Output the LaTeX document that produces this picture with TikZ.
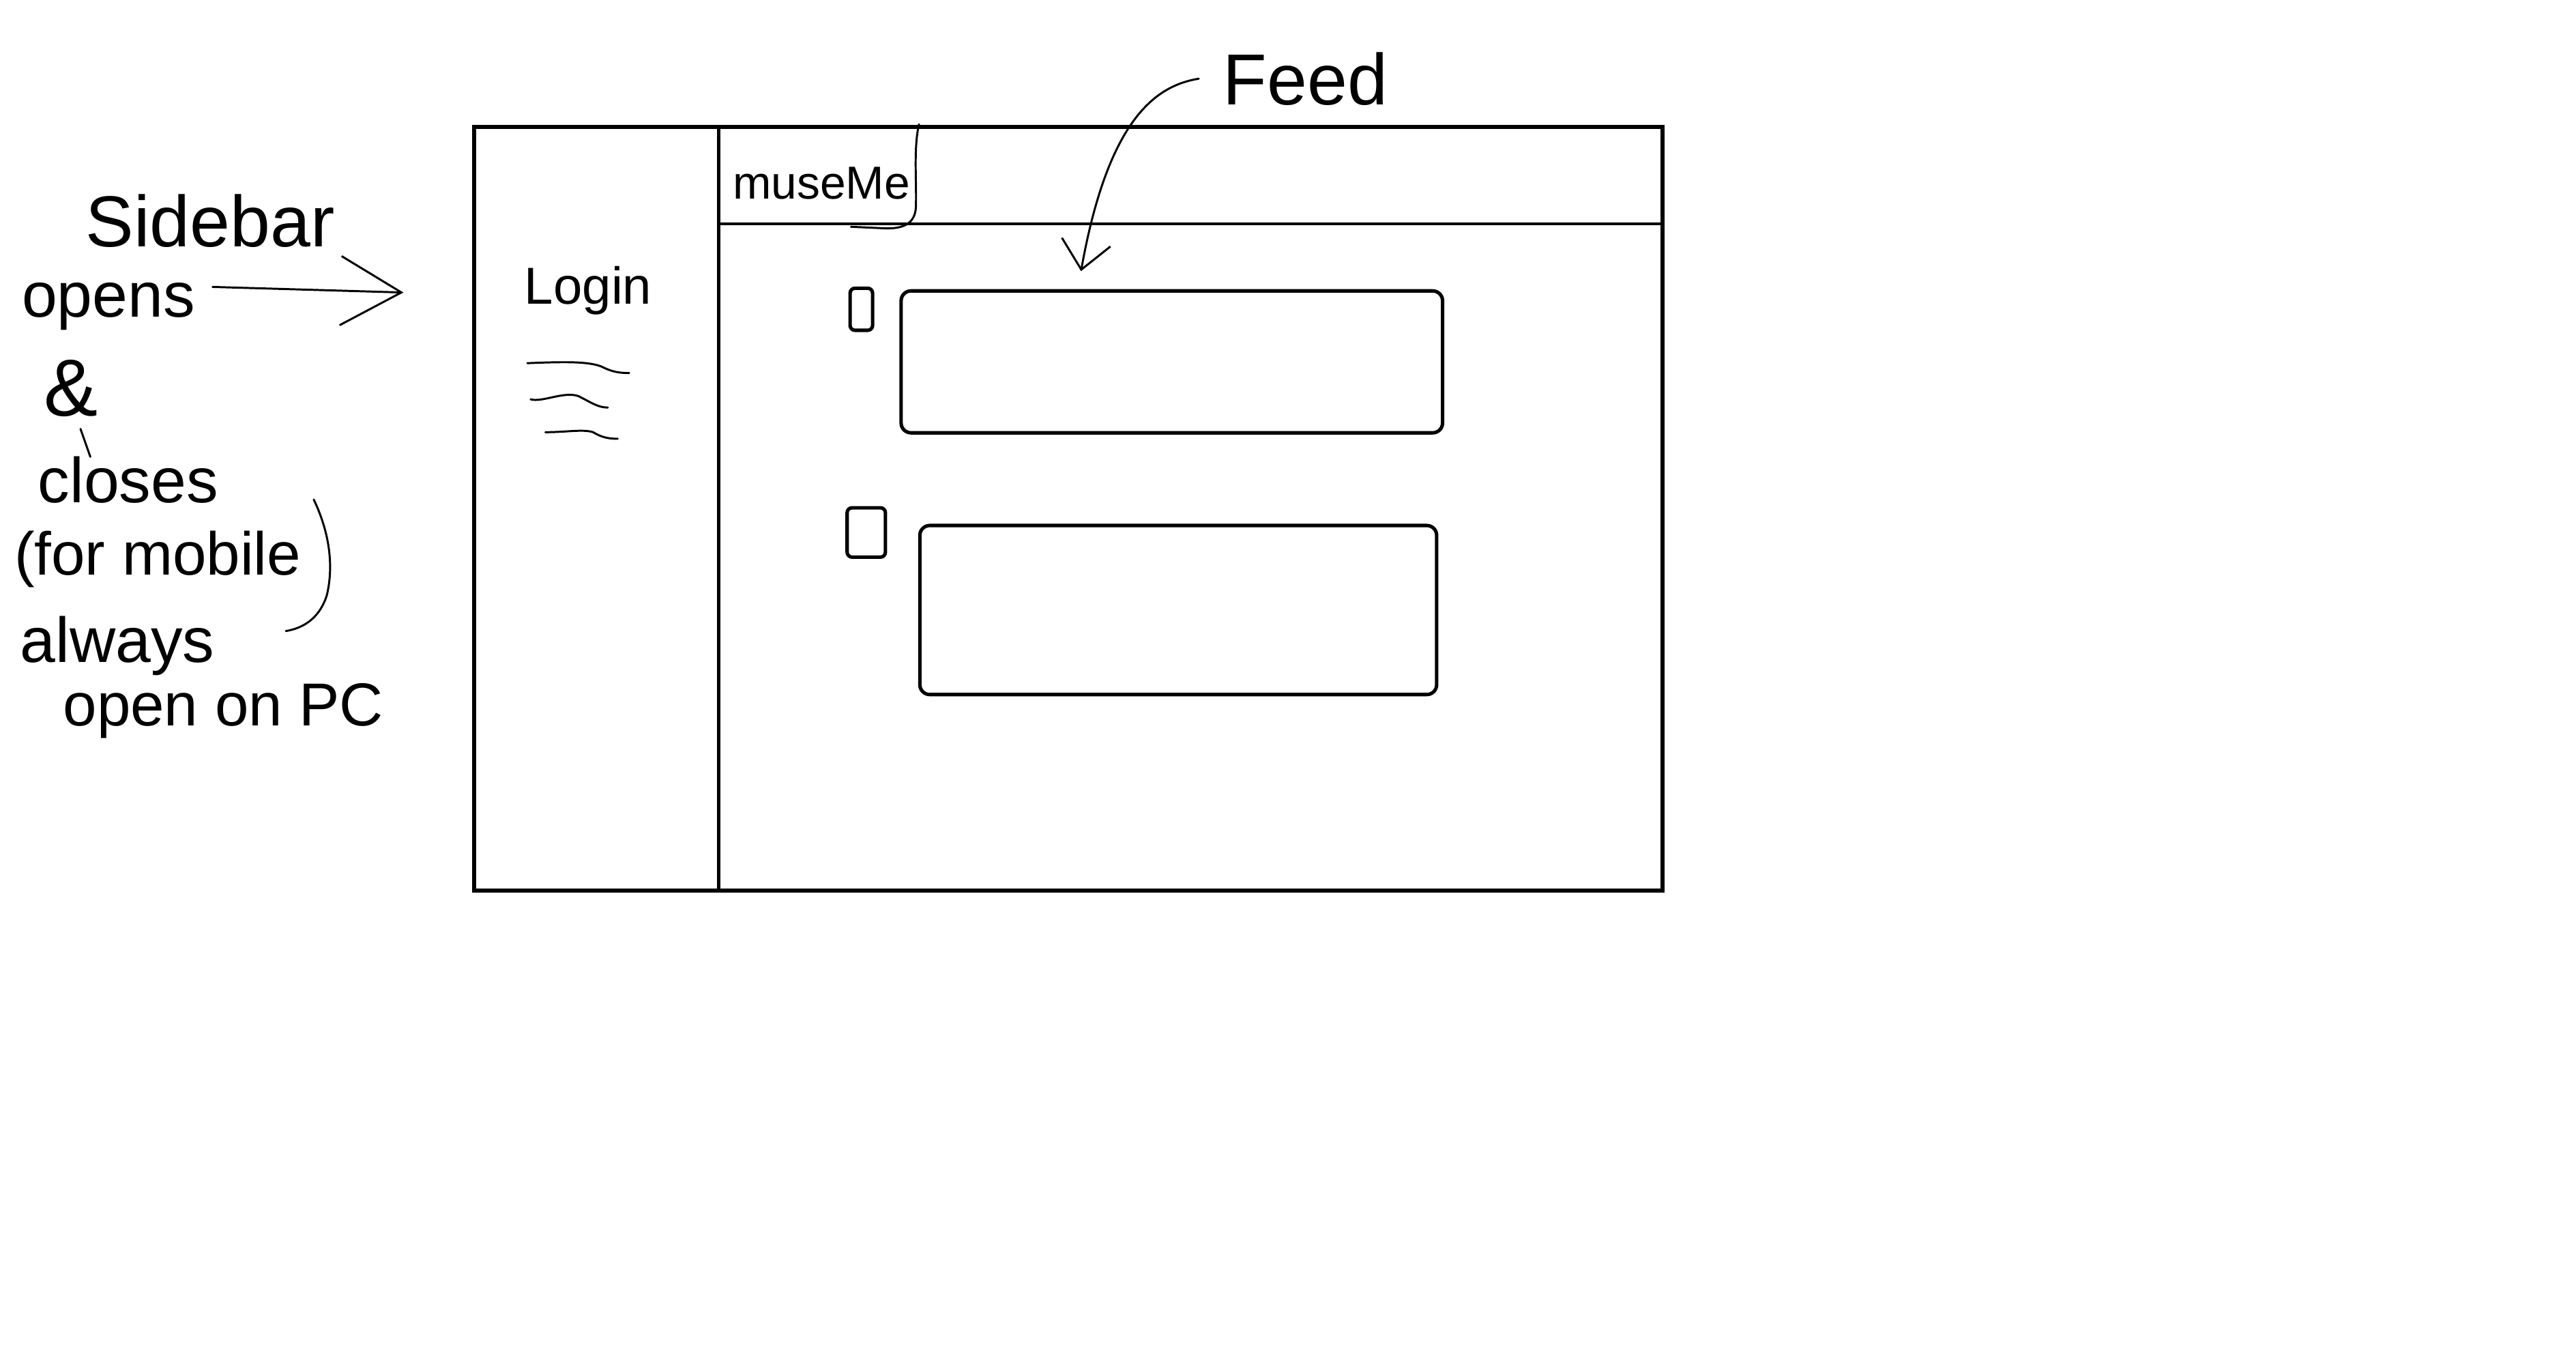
\documentclass[tikz,border=0pt]{standalone}
\usepackage{fontspec}
\setmainfont{Liberation Sans}
\usetikzlibrary{arrows.meta}

\begin{document}
\begin{tikzpicture}[x=0.01cm, y=-0.01cm,
  >={Straight Barb[length=3.7mm, width=4.2mm]},
  pen/.style={line width=0.35pt, line cap=round, line join=round},
  note/.style={anchor=base, inner sep=0pt, font=\fontsize{11}{13}\selectfont},
  card/.style={draw, line width=0.6pt, rounded corners=0.06cm, inner sep=0pt},
  vote/.style={card, rounded corners=0.03cm}]
\useasboundingbox (0,0) rectangle (1568,825);
\draw[line width=0.7pt] (288.6,77.2) rectangle (1012,542);
\draw[line width=0.55pt] (437.5,77.2) -- (437.5,542);
\draw[line width=0.5pt] (437.5,136.2) -- (1012,136.2);
\node[note, font=\fontsize{8}{10}\selectfont] (brand) at (500,121) {museMe};
\draw[pen] (559.4,75.6) .. controls (556,90) and (558,110) .. (557.5,126) .. controls (557,136) and (550,139) .. (540,139) -- (518,138);
\node[note, font=\fontsize{9}{11}\selectfont] (login) at (358,185) {Login};
\draw[pen] (321,221) .. controls (345,220) and (358,220) .. (366,223) .. controls (372,226) and (376,227) .. (383,227);
\draw[pen] (323,243) .. controls (330,245) and (343,238) .. (352,241) .. controls (360,245) and (364,248) .. (370,248);
\draw[pen] (332,263) .. controls (345,263) and (355,261) .. (361,263) .. controls (366,266) and (370,267) .. (376,267);
\node[vote, minimum width=0.137cm, minimum height=0.256cm] (vote1) at (524.3,188.2) {};
\node[card, minimum width=3.294cm, minimum height=0.863cm] (post1) at (713.3,220.2) {};
\node[vote, minimum width=0.233cm, minimum height=0.30cm] (vote2) at (527.3,324) {};
\node[card, minimum width=3.144cm, minimum height=1.028cm] (post2) at (717.2,371.2) {};
\node[note, font=\fontsize{12.5}{15}\selectfont] (feed) at (794.5,63.6) {Feed};
\coordinate (feedtip) at (658,165);
\draw[pen, ->, >={Straight Barb[length=1.7mm, width=3mm]}] ([xshift=-0.14cm]feed.west) .. controls (705,52) and (675,70) .. (feedtip);
\node[note, font=\fontsize{12.5}{14}\selectfont] (sbnote) at (128,150) {Sidebar};
\node[note] (opens) at (66,193) {opens};
\node[note, font=\fontsize{14}{16}\selectfont] (amp) at (43,253) {\&};
\draw[pen] (49,261) -- (55,278);
\node[note] (closes) at (78,306) {closes};
\node[note, font=\fontsize{10.5}{13}\selectfont] (mobile) at (96,350) {(for mobile};
\draw[pen] (191,304) .. controls (201,325) and (203,345) .. (199,362) .. controls (195,375) and (186,382) .. (174,384);
\node[note] (always) at (71.5,403) {always};
\node[note, font=\fontsize{10.5}{13}\selectfont] (onpc) at (136,441.5) {open on PC};
\coordinate (sbtip) at (245.6,178);
\draw[pen, ->] ([xshift=0.1cm, yshift=0.12cm]opens.east) -- (sbtip);
\end{tikzpicture}
\end{document}
